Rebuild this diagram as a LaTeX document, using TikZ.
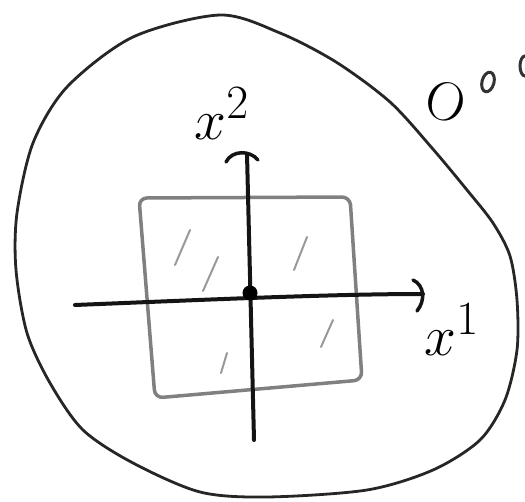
\documentclass[tikz,border=0pt]{standalone}
\usetikzlibrary{calc}
\begin{document}
\begin{tikzpicture}[x=1pt,y=-1pt,
  blob/.style={line width=2.8pt, draw=black!85},
  sq/.style={line width=3.5pt, draw=black!50, rounded corners=8pt},
  axis/.style={line width=4pt, draw=black!92, line cap=round},
  hatch/.style={line width=2pt, draw=black!40, line cap=round},
  lbl/.style={inner sep=0pt, font=\Huge, scale=2.3}]
\useasboundingbox (0,0) rectangle (525,502);
% blob
\draw[blob] plot[smooth cycle, tension=0.5] coordinates {
  (220,15) (280,33) (336,62) (390,102) (432,148) (467,190) (493,223)
  (510,256) (517,300) (517,350) (505,400) (480,440) (433,470) (367,490)
  (267,497) (200,492) (133,463) (83,430) (50,383) (27,333) (16,270)
  (17,213) (33,143) (67,87) (133,37)};
% square
\draw[sq] (139,198) -- (350,197) -- (362,380) -- (155,398) -- cycle;
% hatches
\draw[hatch] (190,230) -- (175,265);
\draw[hatch] (218,257) -- (203,291);
\draw[hatch] (307,237) -- (294,270);
\draw[hatch] (333,320) -- (321,347);
\draw[hatch] (227,353) -- (221,373);
% axes
\coordinate (xl) at (75,305);
\coordinate (xr) at (423,294);
\coordinate (yb) at (254,440);
\coordinate (yt) at (247,154);
\draw[axis] (xl) .. controls (200,300) and (330,294) .. (xr);
\draw[axis] (yb) -- (yt);
% arrowheads (hand-drawn)
\draw[axis, line width=3.5pt] (413,280) .. controls (424,285) and (426,300) .. (417,311);
\draw[axis, line width=3.5pt] (226,162) .. controls (232,150) and (250,150) .. (258,160);
% origin dot
\node[circle, fill=black, minimum size=15pt, inner sep=0pt] (o) at (250,293) {};
% labels
\node[lbl] (x2) at (222,114) {$x^{2}$};
\node[lbl] (x1) at (452,330) {$x^{1}$};
% O with small circles
\node[inner sep=0pt, rotate=-18, font=\Huge, scale=2.2] (bigO) at (446,102) {O};
\draw[line width=3pt, black!80, rotate around={-15:(488,82)}] (488,82) ellipse (6pt and 10pt);
\draw[line width=3pt, black!80] (525,66) ellipse (5pt and 10pt);
\end{tikzpicture}
\end{document}
